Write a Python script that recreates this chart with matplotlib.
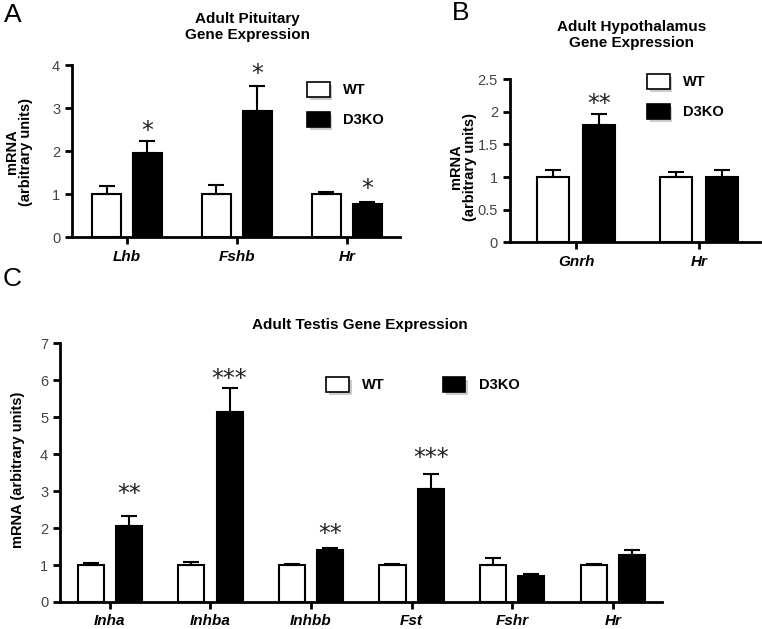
import matplotlib
matplotlib.use("Agg")
from matplotlib import pyplot as plt
from matplotlib.patches import Patch
import matplotlib.patheffects as pe
import numpy as np

plt.rcParams['font.family'] = ['Liberation Sans', 'DejaVu Sans']

# panel A - pituitary
a_genes = ["Lhb", "Fshb", "Hr"]
a_wt = [1.0, 1.0, 1.0]
a_wt_err = [0.18, 0.22, 0.04]
a_ko = [1.95, 2.93, 0.78]
a_ko_err = [0.28, 0.59, 0.04]
a_stars = ["*", "*", "*"]
a_star_y = [2.6, 3.93, 1.25]

# panel B - hypothalamus
b_genes = ["Gnrh", "Hr"]
b_wt = [1.0, 1.0]
b_wt_err = [0.1, 0.07]
b_ko = [1.8, 1.0]
b_ko_err = [0.16, 0.1]
b_stars = ["**", ""]
b_star_y = [2.2, 0]

# panel C - testis
c_genes = ["Inha", "Inhba", "Inhbb", "Fst", "Fshr", "Hr"]
c_wt = [1.0, 1.0, 1.0, 1.0, 1.0, 1.0]
c_wt_err = [0.05, 0.09, 0.04, 0.04, 0.2, 0.04]
c_ko = [2.05, 5.15, 1.4, 3.05, 0.7, 1.27]
c_ko_err = [0.28, 0.63, 0.07, 0.42, 0.05, 0.15]
c_stars = ["**", "***", "**", "***", "", ""]
c_star_y = [3.07, 6.2, 2.0, 4.05, 0, 0]

fig = plt.figure(figsize=(7.62, 6.29), dpi=100)


def panel(rect, genes, wt, wt_err, ko, ko_err, stars, star_y, ylim, yticks,
          xlim, width, off):
    ax = fig.add_axes(rect)
    x = np.arange(len(genes))
    kw = dict(width=width, edgecolor="black", linewidth=1.5, capsize=6,
              error_kw=dict(elinewidth=1.5, capthick=1.5, ecolor="black"))
    ax.bar(x - off, wt, color="white",
           yerr=[np.zeros(len(wt)), wt_err], **kw)
    ax.bar(x + off, ko, color="black",
           yerr=[np.zeros(len(ko)), ko_err], **kw)
    for xi, s, sy in zip(x, stars, star_y):
        if s:
            ax.annotate(s, (xi + off, sy), xytext=(0, -4),
                        textcoords="offset points", ha="center", va="center",
                        fontsize=17, color="#222222", family="DejaVu Sans")
    ax.set_ylim(*ylim)
    ax.set_xlim(*xlim)
    ax.set_yticks(yticks)
    ax.set_yticklabels([("%g" % t) for t in yticks], color="#444444",
                       fontsize=10.5)
    ax.set_xticks(x)
    ax.set_xticklabels(genes, fontsize=11, fontweight="bold",
                       fontstyle="italic")
    for s in ["top", "right"]:
        ax.spines[s].set_visible(False)
    for s in ["left", "bottom"]:
        ax.spines[s].set_linewidth(2)
    ax.tick_params(axis="both", width=2, length=5)
    ax.tick_params(axis="x", pad=4)
    return ax


def legend(ax, anchor, ncol=1, colsp=2.0):
    sh = [pe.withSimplePatchShadow(offset=(2, -2), shadow_rgbFace="gray",
                                   alpha=0.4)]
    hs = [Patch(facecolor="white", edgecolor="black", linewidth=1.2,
                path_effects=sh, label="WT"),
          Patch(facecolor="black", edgecolor="black", linewidth=1.2,
                path_effects=sh, label="D3KO")]
    ax.legend(handles=hs, loc="upper left", bbox_to_anchor=anchor,
              bbox_transform=fig.transFigure, frameon=False, ncol=ncol,
              prop=dict(weight="bold", size=10.5), handlelength=1.55,
              handleheight=1.2, labelspacing=1.0, handletextpad=0.9,
              columnspacing=colsp, borderpad=0, borderaxespad=0)


axA = panel([0.0945, 0.623, 0.43, 0.2735], a_genes, a_wt, a_wt_err, a_ko,
            a_ko_err, a_stars, a_star_y, (0, 4), [0, 1, 2, 3, 4],
            (-0.5, 2.48), 0.264, 0.186)
legend(axA, (0.403, 1 - 82 / 629))

axB = panel([0.669, 0.615, 0.328, 0.259], b_genes, b_wt, b_wt_err, b_ko,
            b_ko_err, b_stars, b_star_y, (0, 2.5),
            [0, 0.5, 1, 1.5, 2, 2.5], (-0.54, 1.496), 0.26, 0.187)
legend(axB, (0.849, 1 - 74 / 629))

axC = panel([0.0787, 0.043, 0.79, 0.411], c_genes, c_wt, c_wt_err, c_ko,
            c_ko_err, c_stars, c_star_y, (0, 7), list(range(8)),
            (-0.497, 5.49), 0.26, 0.19)
legend(axC, (0.428, 1 - 377 / 629), ncol=2, colsp=4.0)

# titles, panel letters, axis labels
fig.text(0.325, 1 - 27 / 629, "Adult Pituitary\nGene Expression",
         ha="center", va="center", fontsize=11, fontweight="bold",
         linespacing=1.1)
fig.text(0.829, 1 - 35 / 629, "Adult Hypothalamus\nGene Expression",
         ha="center", va="center", fontsize=11, fontweight="bold",
         linespacing=1.1)
fig.text(0.472, 1 - 325 / 629, "Adult Testis Gene Expression",
         ha="center", va="center", fontsize=11, fontweight="bold")

fig.text(0.017, 1 - 15 / 629, "A", ha="center", va="center", fontsize=19)
fig.text(0.604, 1 - 13 / 629, "B", ha="center", va="center", fontsize=19)
fig.text(0.016, 1 - 279 / 629, "C", ha="center", va="center", fontsize=19)

fig.text(0.025, 1 - 152 / 629, "mRNA\n(arbitrary units)", rotation=90,
         ha="center", va="center", fontsize=10.5, fontweight="bold",
         multialignment="center", linespacing=1.0)
fig.text(0.608, 1 - 167 / 629, "mRNA\n(arbitrary units)", rotation=90,
         ha="center", va="center", fontsize=10.5, fontweight="bold",
         multialignment="center", linespacing=1.0)
fig.text(0.024, 1 - 470 / 629, "mRNA (arbitrary units)", rotation=90,
         ha="center", va="center", fontsize=10.5, fontweight="bold")

fig.savefig("out.png", dpi=100)
